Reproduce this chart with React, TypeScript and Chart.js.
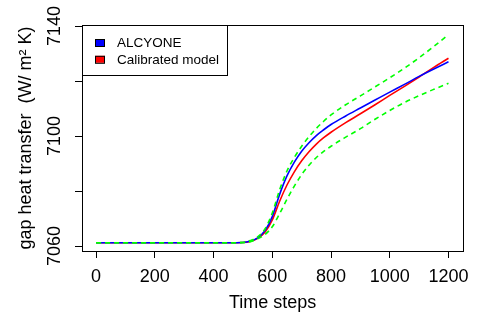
import { useEffect, useRef } from "react";
import { Chart, registerables } from "chart.js";

Chart.register(...registerables);

const FONT = "'Liberation Sans', Arial, Helvetica, sans-serif";

const steps = [0, 100, 200, 300, 400, 450, 500, 525, 550, 575, 600, 625, 650, 675, 700, 725, 750, 775, 800, 850, 900, 950, 1000, 1050, 1100, 1150, 1200];
const alcyone = [7061.2, 7061.2, 7061.2, 7061.2, 7061.2, 7061.2, 7061.3, 7061.8, 7063.0, 7065.6, 7070.7, 7078.8, 7085.5, 7090.5, 7094.5, 7097.6, 7100.2, 7102.3, 7104.2, 7107.3, 7110.2, 7113.1, 7116.0, 7118.8, 7121.7, 7124.4, 7127.0];
const calibrated = [7061.2, 7061.2, 7061.2, 7061.2, 7061.2, 7061.2, 7061.3, 7061.7, 7062.8, 7065.0, 7069.5, 7076.3, 7082.2, 7087.0, 7091.0, 7094.3, 7097.1, 7099.4, 7101.4, 7104.9, 7108.1, 7111.4, 7114.8, 7118.1, 7121.5, 7125.0, 7128.3];
const upperBound = [7061.2, 7061.2, 7061.2, 7061.2, 7061.2, 7061.2, 7061.3, 7062.0, 7063.3, 7066.2, 7072.0, 7080.5, 7087.3, 7092.2, 7096.3, 7099.8, 7102.8, 7105.4, 7107.7, 7111.4, 7114.6, 7117.9, 7121.2, 7124.7, 7128.5, 7132.6, 7136.9];
const lowerBound = [7061.2, 7061.2, 7061.2, 7061.2, 7061.2, 7061.2, 7061.3, 7061.6, 7062.6, 7064.2, 7067.0, 7071.8, 7077.0, 7081.8, 7086.0, 7089.4, 7092.2, 7094.4, 7096.3, 7099.6, 7102.7, 7106.1, 7109.3, 7112.2, 7114.7, 7117.0, 7119.2];

const xTicks = [0, 200, 400, 600, 800, 1000, 1200];
const xTickLabels = ["0", "200", "400", "600", "800", "1000", "1200"];
const yTicks = [7060, 7080, 7100, 7120, 7140];
const yTickLabels = ["7060", "", "7100", "", "7140"];

const seriesNames = ["ALCYONE", "Calibrated model", "upper", "lower"];

const toPoints = (vals: number[]) => steps.map((s, i) => ({ x: s, y: vals[i] }));

const boxPlugin = {
  id: "rbox",
  afterDatasetsDraw(chart: any) {
    const { ctx, chartArea } = chart;
    ctx.save();
    ctx.strokeStyle = "#000";
    ctx.lineWidth = 1;
    ctx.strokeRect(
      Math.round(chartArea.left) + 0.5,
      Math.round(chartArea.top) + 0.5,
      Math.round(chartArea.right - chartArea.left),
      Math.round(chartArea.bottom - chartArea.top)
    );
    ctx.restore();
  },
  afterDraw(chart: any) {
    const { ctx, chartArea } = chart;
    const yScale = chart.scales.y;
    ctx.save();
    // y tick labels, rotated like R's default
    ctx.fillStyle = "#000";
    ctx.font = `18px ${FONT}`;
    ctx.textAlign = "center";
    ctx.textBaseline = "alphabetic";
    yTicks.forEach((v, i) => {
      const lab = yTickLabels[i];
      if (!lab) return;
      const py = yScale.getPixelForValue(v);
      ctx.save();
      ctx.translate(chartArea.left - 22.5, py);
      ctx.rotate(-Math.PI / 2);
      ctx.fillText(lab, 0, 0);
      ctx.restore();
    });

    // legend
    const lx = Math.round(chartArea.left);
    const ly = Math.round(chartArea.top);
    ctx.fillStyle = "#fff";
    ctx.fillRect(lx, ly, 145, 50);
    ctx.strokeStyle = "#000";
    ctx.lineWidth = 1;
    ctx.strokeRect(lx + 0.5, ly + 0.5, 145, 50);
    ctx.font = `13.5px ${FONT}`;
    ctx.textAlign = "left";
    ctx.textBaseline = "alphabetic";
    const items = chart.data.datasets.slice(0, 2);
    items.forEach((ds: any, i: number) => {
      const rowY = ly + 14 + i * 16.8;
      ctx.fillStyle = ds.borderColor;
      ctx.fillRect(lx + 13, rowY, 10, 7);
      ctx.strokeStyle = "#000";
      ctx.strokeRect(lx + 13.5, rowY + 0.5, 9, 7);
      ctx.fillStyle = "#000";
      ctx.fillText(ds.label, lx + 35, rowY + 8.3);
    });
    ctx.restore();
  },
};

export default function App() {
  const ref = useRef<HTMLCanvasElement | null>(null);

  useEffect(() => {
    if (!ref.current) return;
    Chart.defaults.font.family = FONT;
    const chart = new Chart(ref.current, {
      type: "line",
      data: {
        datasets: [
          {
            label: seriesNames[0],
            data: toPoints(alcyone),
            borderColor: "#0000FF",
            backgroundColor: "#0000FF",
            borderWidth: 1.6,
            pointRadius: 0,
            cubicInterpolationMode: "monotone",
            order: 2,
          },
          {
            label: seriesNames[1],
            data: toPoints(calibrated),
            borderColor: "#FF0000",
            backgroundColor: "#FF0000",
            borderWidth: 1.6,
            pointRadius: 0,
            cubicInterpolationMode: "monotone",
            order: 3,
          },
          {
            label: seriesNames[2],
            data: toPoints(upperBound),
            borderColor: "#00FF00",
            borderWidth: 1.6,
            borderDash: [5, 4],
            pointRadius: 0,
            cubicInterpolationMode: "monotone",
            order: 1,
          },
          {
            label: seriesNames[3],
            data: toPoints(lowerBound),
            borderColor: "#00FF00",
            borderWidth: 1.6,
            borderDash: [5, 4],
            pointRadius: 0,
            cubicInterpolationMode: "monotone",
            order: 1,
          },
        ],
      },
      options: {
        responsive: false,
        animation: false,
        devicePixelRatio: 1,
        layout: { padding: { top: 25, right: 5, left: 0, bottom: 0 } },
        plugins: {
          legend: { display: false },
          tooltip: { enabled: false },
        },
        scales: {
          x: {
            type: "linear",
            min: -48,
            max: 1250,
            afterBuildTicks: (s: any) => {
              s.ticks = xTicks.map((v) => ({ value: v }));
            },
            afterFit: (s: any) => {
              s.height = 64;
            },
            border: { display: false },
            grid: {
              drawOnChartArea: false,
              drawTicks: true,
              tickLength: 7,
              tickColor: "#000",
              lineWidth: 1,
            },
            ticks: {
              color: "#000",
              font: { size: 18 },
              padding: 8.3,
              maxRotation: 0,
              autoSkip: false,
              callback: (_v: any, i: number) => xTickLabels[i],
            },
            title: {
              display: true,
              text: "Time steps",
              color: "#000",
              font: { size: 18 },
              padding: { top: 0, bottom: 1.1 },
            },
          },
          y: {
            type: "linear",
            min: 7058.2,
            max: 7140.4,
            afterBuildTicks: (s: any) => {
              s.ticks = yTicks.map((v) => ({ value: v }));
            },
            afterFit: (s: any) => {
              s.width = 82;
            },
            border: { display: false },
            grid: {
              drawOnChartArea: false,
              drawTicks: true,
              tickLength: 7,
              tickColor: "#000",
              lineWidth: 1,
            },
            ticks: { display: false },
            title: {
              display: true,
              text: "gap heat transfer  (W/ m\u00B2 K)",
              color: "#000",
              font: { size: 18 },
              padding: { top: 15.2, bottom: 0 },
            },
          },
        },
      },
      plugins: [boxPlugin],
    } as any);
    return () => chart.destroy();
  }, []);

  return (
    <div style={{ position: "fixed", left: 0, top: 0, width: 477, height: 315, background: "#fff" }}>
      <canvas ref={ref} width={477} height={315} />
    </div>
  );
}
